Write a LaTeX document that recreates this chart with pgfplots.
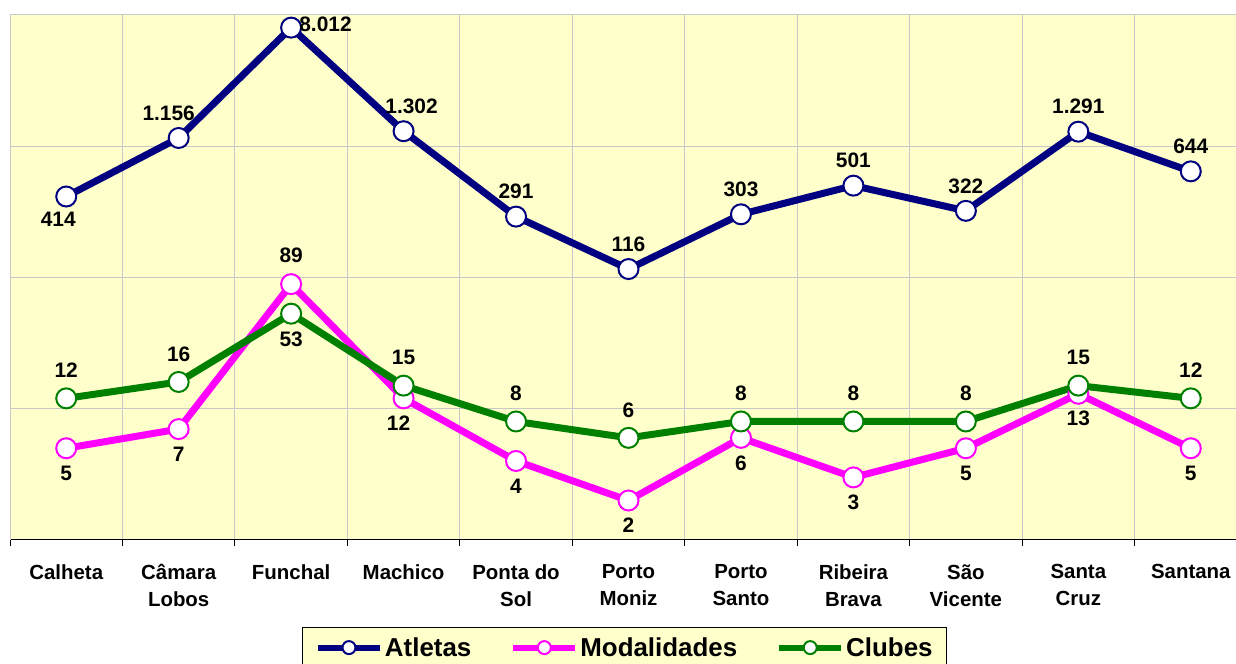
\documentclass[border=0pt]{standalone}
\usepackage{pgfplots}
\pgfplotsset{compat=1.18}
\usepackage{fontspec}
\setmainfont{Liberation Sans}

\definecolor{bgyel}{HTML}{FFFFCC}
\definecolor{gridg}{HTML}{C8C8C8}
\definecolor{navy}{HTML}{000080}
\definecolor{mag}{HTML}{FF00FF}
\definecolor{grn}{HTML}{008000}

\pgfplotsset{
  serie/.style={
    #1, line width=7bp, mark=*, mark size=10bp,
    mark options={fill=white, draw=#1, line width=2bp, solid},
  },
  lbl/.style={
    draw=none, mark=none, forget plot,
    nodes near coords, point meta=explicit symbolic,
    every node near coord/.style={anchor=center, inner sep=0pt,
      text=black, font=\fontsize{21}{24}\selectfont\bfseries, #1},
  },
}

\begin{document}
\begin{tikzpicture}
\begin{axis}[
  scale only axis,
  width=1237bp, height=525bp,
  xmin=-0.5, xmax=10.5,
  ymode=log, ymin=1, ymax=10000,
  clip=false,
  axis background/.style={fill=bgyel, draw=gridg, line width=1bp},
  axis x line*=bottom,
  axis y line*=left,
  x axis line style={black, line width=1bp},
  y axis line style={gridg, line width=1bp},
  xtick={0,...,10},
  xticklabels={Calheta, Câmara\\Lobos, Funchal, Machico, Ponta do\\Sol,
    Porto\\Moniz, Porto\\Santo, Ribeira\\Brava, São\\Vicente, Santa\\Cruz, Santana},
  xticklabel style={align=center, font=\fontsize{20.5}{27}\selectfont\bfseries, yshift=-21bp},
  minor xtick={-0.5,0.5,...,10.5},
  xminorgrids=true,
  ytick={10,100,1000,10000},
  yticklabels={},
  ymajorgrids=true,
  major grid style={gridg, line width=1bp},
  minor grid style={gridg, line width=1bp},
  major tick length=0pt,
  minor tick length=6bp,
  tick align=outside,
  minor tick style={black, line width=1bp},
  ytick style={draw=none},
  legend style={at={(0.497,-0.1657)}, anchor=north, draw=black, fill=bgyel,
    line width=1bp, legend columns=3,
    font=\fontsize{26}{30}\selectfont\bfseries,
    inner xsep=12bp, inner ysep=8bp,
    nodes={inner sep=2bp},
    /tikz/every even column/.append style={column sep=37bp}},
  legend image code/.code={
    \draw[line width=6bp, mark size=6.5bp, mark repeat=2, mark phase=2]
      plot coordinates {(0bp,0bp) (31bp,0bp) (62bp,0bp)};},
]
% Atletas
\addplot[serie=navy] coordinates {
  (0,414) (1,1156) (2,8012) (3,1302) (4,291) (5,116)
  (6,303) (7,501) (8,322) (9,1291) (10,644)};
\addlegendentry{Atletas}
% Modalidades
\addplot[serie=mag] coordinates {
  (0,5) (1,7) (2,89) (3,12) (4,4) (5,2)
  (6,6) (7,3) (8,5) (9,13) (10,5)};
\addlegendentry{Modalidades}
% Clubes
\addplot[serie=grn] coordinates {
  (0,12) (1,16) (2,53) (3,15) (4,8) (5,6)
  (6,8) (7,8) (8,8) (9,15) (10,12)};
\addlegendentry{Clubes}

% data labels
\addplot[lbl={yshift=25bp}] coordinates {
  (4,291)[291] (5,116)[116]
  (6,303)[303] (7,501)[501] (8,322)[322] (9,1291)[1.291] (10,644)[644]};
\addplot[lbl={yshift=25bp, xshift=-10bp}] coordinates {(1,1156)[1.156]};
\addplot[lbl={yshift=25bp, xshift=8bp}] coordinates {(3,1302)[1.302]};
\addplot[lbl={yshift=-23bp, xshift=-8bp}] coordinates {(0,414)[414]};
\addplot[lbl={anchor=west, xshift=8bp, yshift=3bp}] coordinates {(2,8012)[8.012]};

\addplot[lbl={yshift=-25bp}] coordinates {
  (0,5)[5] (1,7)[7] (4,4)[4] (5,2)[2]
  (6,6)[6] (7,3)[3] (8,5)[5] (9,13)[13] (10,5)[5]};
\addplot[lbl={yshift=-25bp, xshift=-5bp}] coordinates {(3,12)[12]};
\addplot[lbl={yshift=29bp}] coordinates {(2,89)[89]};

\addplot[lbl={yshift=28bp}] coordinates {
  (0,12)[12] (1,16)[16] (3,15)[15] (4,8)[8] (5,6)[6]
  (6,8)[8] (7,8)[8] (8,8)[8] (9,15)[15] (10,12)[12]};
\addplot[lbl={yshift=-26bp}] coordinates {(2,53)[53]};

\coordinate (sw) at (rel axis cs:0,0);
\coordinate (ne) at (rel axis cs:1,1);
\end{axis}
\pgfresetboundingbox
\path[use as bounding box] ([xshift=-10bp,yshift=-124bp]sw)
  rectangle ([xshift=-11bp,yshift=15bp]ne);
\end{tikzpicture}
\end{document}
